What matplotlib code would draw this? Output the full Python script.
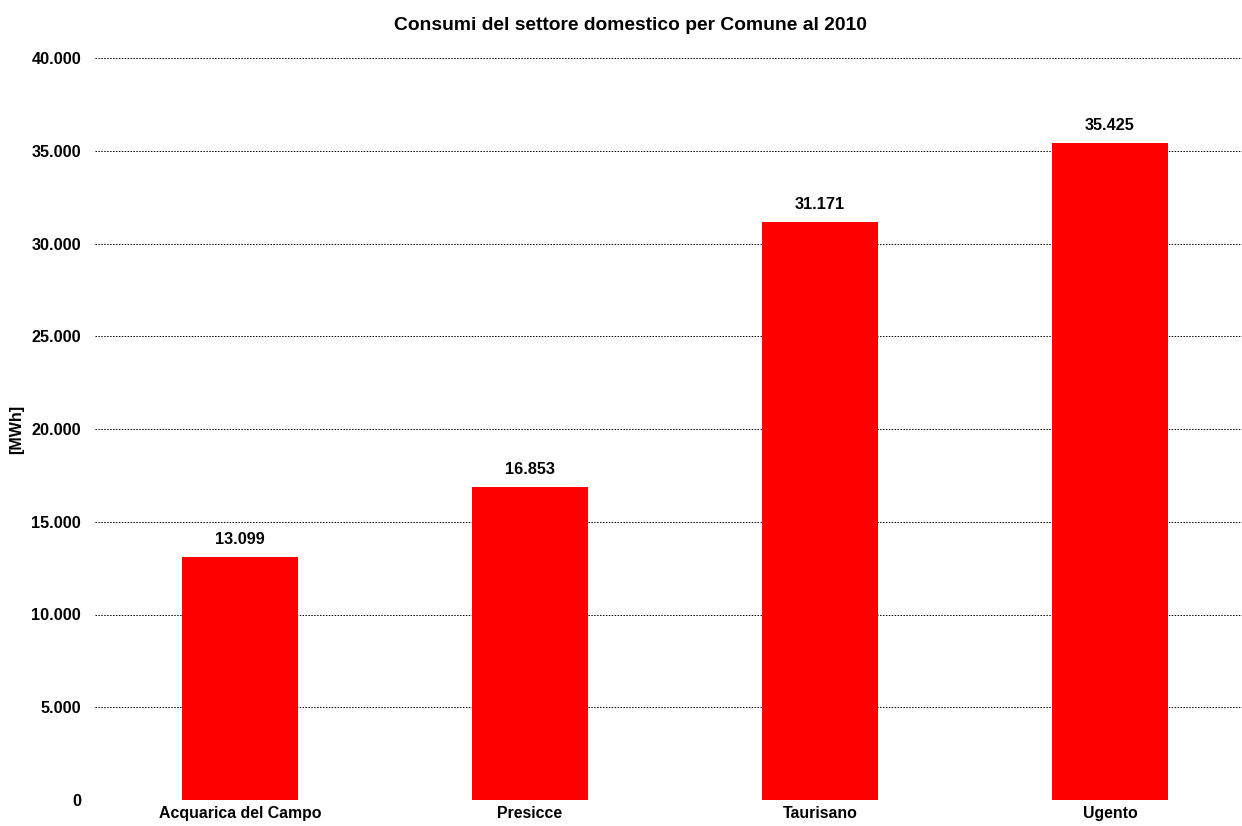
import matplotlib
matplotlib.use("Agg")
import matplotlib.pyplot as plt
from matplotlib.ticker import FuncFormatter

comuni = ["Acquarica del Campo", "Presicce", "Taurisano", "Ugento"]
consumi = [13099, 16853, 31171, 35425]
yticks = [0, 5000, 10000, 15000, 20000, 25000, 30000, 35000, 40000]

plt.rcParams["font.family"] = ["Liberation Sans", "DejaVu Sans"]
plt.rcParams["font.weight"] = "bold"


def migliaia(v, pos=None):
    return f"{int(v):,}".replace(",", ".")


fig = plt.figure(figsize=(12.42, 8.26), dpi=100)
ax = fig.add_axes([95 / 1242, 26 / 826, 1160 / 1242, 742 / 826])

x = range(len(comuni))
ax.bar(x, consumi, width=0.4, color="#ff0000", zorder=3)
for xi, v in zip(x, consumi):
    ax.text(xi, v + 550, migliaia(v), ha="center", va="bottom",
            fontsize=11.7, fontweight="bold")

ax.set_xlim(-0.5, len(comuni) - 0.5)
ax.set_ylim(0, 40000)
ax.set_yticks(yticks)
ax.yaxis.set_major_formatter(FuncFormatter(migliaia))
ax.set_xticks(list(x))
ax.set_xticklabels(comuni, fontsize=11.4, fontweight="bold")
ax.tick_params(axis="both", length=0)
ax.tick_params(axis="y", pad=10, labelsize=11.7)
ax.tick_params(axis="x", pad=4)
for s in ax.spines.values():
    s.set_visible(False)
ax.grid(axis="y", color="black", linestyle=(0, (1.5, 1.5)), linewidth=0.7, zorder=0)
ax.set_ylabel("[MWh]", fontsize=11.5, fontweight="bold", labelpad=5)

fig.suptitle("Consumi del settore domestico per Comune al 2010",
             fontsize=13.9, fontweight="bold", x=0.508, y=0.979)

fig.savefig("out.png", dpi=100)
